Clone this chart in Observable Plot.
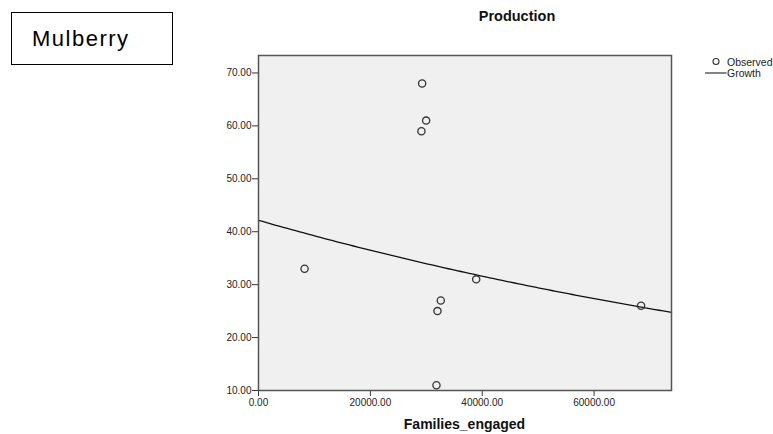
<!DOCTYPE html>
<html><head><meta charset="utf-8">
<script src="https://cdn.jsdelivr.net/npm/d3@7"></script>
<script src="https://cdn.jsdelivr.net/npm/@observablehq/plot@0.6"></script>
<style>
body{margin:0;background:#fff;font-family:Arial,"Liberation Sans",sans-serif;}
#wrap{position:relative;width:773px;height:434px;}
#box{position:absolute;left:11px;top:12px;width:162px;height:53px;border:1.5px solid #000;box-sizing:border-box;font-family:"Liberation Sans",Arial,sans-serif;font-size:22px;letter-spacing:1.5px;line-height:51px;padding-left:20px;color:#000;}
</style></head>
<body><div id="wrap"><div id="box">Mulberry</div></div>
<script>
const familiesEngaged = [29256, 29970, 29130, 8236, 38925, 32590, 32000, 31820, 68400];
const production = [68, 61, 59, 33, 31, 27, 25, 11, 26];
const yTicks = [10, 20, 30, 40, 50, 60, 70];
const xTicks = [0, 20000, 40000, 60000];
const xDomain = [0, 73840];
const yDomain = [10, 73.3];

const obs = familiesEngaged.map((x, i) => ({x, y: production[i]}));
// Growth model: ln(y) = b0 + b1*x fitted by least squares on the observed data
const mx = d3.mean(obs, d => d.x), ml = d3.mean(obs, d => Math.log(d.y));
const b1 = d3.sum(obs, d => (d.x - mx) * (Math.log(d.y) - ml)) / d3.sum(obs, d => (d.x - mx) ** 2);
const b0 = ml - b1 * mx;
const fit = d3.range(0, 101).map(i => { const x = xDomain[0] + (xDomain[1] - xDomain[0]) * i / 100; return {x, y: Math.exp(b0 + b1 * x)}; });

const chart = Plot.plot({
  width: 773, height: 434,
  marginLeft: 258, marginRight: 102, marginTop: 55, marginBottom: 44,
  style: {fontFamily: "Arial, 'Liberation Sans', sans-serif", fontSize: "10px", color: "#222", background: "transparent"},
  x: {domain: xDomain, ticks: xTicks, tickFormat: d3.format(".2f"), tickSize: 6, label: null},
  y: {domain: yDomain, ticks: yTicks, tickFormat: d3.format(".2f"), tickSize: 6, label: null},
  marks: [
    Plot.frame({fill: "#f0f0f0", stroke: "none"}),
    Plot.axisX({ticks: xTicks, tickFormat: d3.format(".2f"), tickSize: 6, tickPadding: 2, label: null, stroke: "#333"}),
    Plot.axisY({ticks: yTicks, tickFormat: d3.format(".2f"), tickSize: 6, tickPadding: 1, label: null, stroke: "#333"}),
    Plot.line(fit, {x: "x", y: "y", stroke: "#111", strokeWidth: 1.3}),
    Plot.dot(obs, {x: "x", y: "y", r: 3.6, stroke: "#333", strokeWidth: 1.3, fill: "none"}),
    Plot.frame({stroke: "#555", strokeWidth: 1.5})
  ]
});
document.getElementById("wrap").prepend(chart);
chart.style.position = "absolute"; chart.style.left = "0"; chart.style.top = "0";

const svg = d3.select(chart);
svg.append("text").attr("x", 517).attr("y", 21).attr("text-anchor", "middle")
  .attr("font-size", 14.5).attr("font-weight", "bold").attr("fill", "#111").text("Production");
svg.append("text").attr("x", 464.5).attr("y", 429).attr("text-anchor", "middle")
  .attr("font-size", 14).attr("font-weight", "bold").attr("fill", "#111").text("Families_engaged");
const lg = svg.append("g").attr("font-size", 10.5).attr("fill", "#222").attr("text-anchor", "start");
lg.append("circle").attr("cx", 716).attr("cy", 61.5).attr("r", 3).attr("fill", "none").attr("stroke", "#333").attr("stroke-width", 1.1);
lg.append("text").attr("x", 727).attr("y", 65.5).text("Observed");
lg.append("line").attr("x1", 705).attr("x2", 726.5).attr("y1", 73).attr("y2", 73).attr("stroke", "#333").attr("stroke-width", 1.2);
lg.append("text").attr("x", 727).attr("y", 77).text("Growth");
</script></body></html>
